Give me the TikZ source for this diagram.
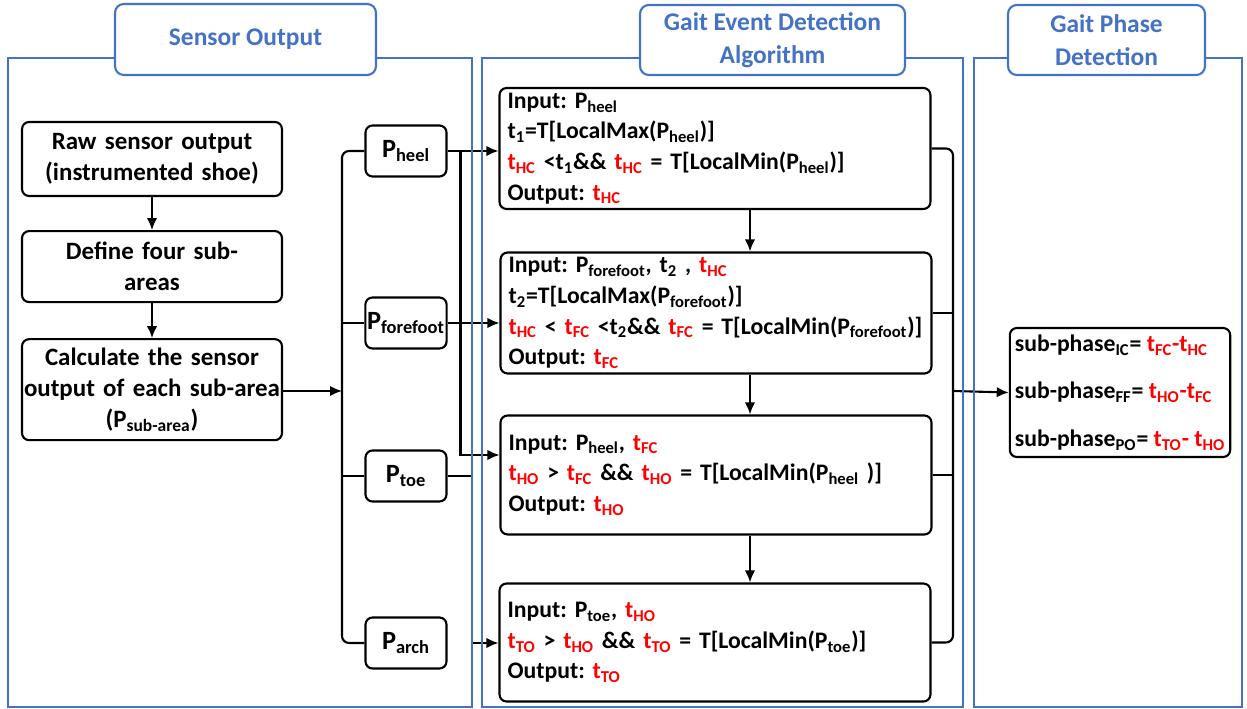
\documentclass[tikz,border=0pt]{standalone}
\usepackage{fontspec}
\setmainfont{Carlito}
\usepackage{xcolor}
\usetikzlibrary{positioning, arrows.meta, calc}
\definecolor{panelblue}{RGB}{68,114,196}
\newcommand{\Pv}[1]{P\textsubscript{#1}}
\newcommand{\tvar}[1]{t\textsubscript{#1}}
\newcommand{\tred}[1]{\textcolor{red}{t\textsubscript{#1}}}
\tikzset{
block/.style={
  rectangle,
  draw,
  very thick,
  rounded corners=4pt,
  align=center,
  fill=white
 },
line/.style={draw, very thick, -{Latex[length=2.4mm,width=2.1mm]}},
edge/.style={draw, very thick},
panel/.style={draw=panelblue, line width=1.3pt},
heading/.style={rectangle, draw=panelblue, line width=1.2pt, rounded corners=5pt,
  fill=white, text=panelblue, align=center,
  font=\fontsize{14.5}{19}\selectfont\bfseries}
}

\begin{document}
\frenchspacing
\begin{tikzpicture}[x=0.02cm, y=-0.02cm,
font=\fontsize{14.2}{17.5}\selectfont\bfseries,
step box/.style={block, text width=5.2cm, inner xsep=0pt},
pnode/.style={block, minimum width=1.62cm, minimum height=1.02cm, inner sep=1pt,
  font=\fontsize{15}{17}\selectfont\bfseries},
algo/.style={block, align=left, text width=8.3cm, inner xsep=0.16cm, inner ysep=1pt,
  minimum height=2.42cm, font=\fontsize{13.5}{17.4}\selectfont\bfseries}]

 \useasboundingbox (0,0) rectangle (1247,709);

 % sensor output column
 \node[step box, minimum height=1.48cm] (raw) at (152,159)
  {Raw sensor output\\(instrumented shoe)};
 \node[step box, minimum height=1.42cm, below=0.66cm of raw] (define)
  {Define four sub-\\areas};
 \node[step box, minimum height=2.02cm, below=0.7cm of define] (calc)
  {Calculate the sensor\\output of each sub-area\\(\Pv{sub-area})};
 \draw[line] (raw) -- (define);
 \draw[line] (define) -- (calc);

 \foreach \n/\y in {heel/151, forefoot/323, toe/476, arch/643}
  \node[pnode] (\n) at (406,\y) {\Pv{\n}};

 \coordinate (lbus) at (342,391);
 \draw[line] (calc.east |- lbus) -- (lbus);
 \draw[edge, rounded corners=4pt] (heel.west) -| (lbus) |- (arch.west);
 \draw[edge] (lbus |- forefoot) -- (forefoot.west);
 \draw[edge] (lbus |- toe) -- (toe.west);

 % event detection boxes
 \node[algo] (b1) at (715,148.5)
  {Input: \Pv{heel}\\
   \tvar{1}=T[LocalMax(\Pv{heel})]\\
   \tred{HC} <\tvar{1}\&\& \tred{HC} = T[LocalMin(\Pv{heel})]\\
   Output: \tred{HC}};
 \node[algo] (b2) at (716,313)
  {Input: \Pv{forefoot}, \tvar{2} , \tred{HC}\\
   \tvar{2}=T[LocalMax(\Pv{forefoot})]\\
   \tred{HC} < \tred{FC} <\tvar{2}\&\& \tred{FC} = T[LocalMin(\Pv{forefoot})]\\
   Output: \tred{FC}};
 \node[algo, minimum height=2.38cm] (b3) at (716,475)
  {Input: \Pv{heel}, \tred{FC}\\
   \tred{HO} > \tred{FC} \&\& \tred{HO} = T[LocalMin(\Pv{heel} )]\\
   Output: \tred{HO}};
 \node[algo, minimum height=2.36cm] (b4) at (715,642.5)
  {Input: \Pv{toe}, \tred{HO}\\
   \tred{TO} > \tred{HO} \&\& \tred{TO} = T[LocalMin(\Pv{toe})]\\
   Output: \tred{TO}};

 \coordinate (ax) at (750,0);
 \foreach \a/\b in {b1/b2, b2/b3, b3/b4}
  \draw[line] (\a.south -| ax) -- (\b.north -| ax);

 \draw[line] (heel.east) -- (b1.west |- heel);
 \draw[line] (forefoot.east) -- (b2.west |- forefoot);
 \path (heel.east) ++(13,0) coordinate (hb);
 \draw[line] (hb) |- ([yshift=0.4cm]b3.west);
 \coordinate (tb) at (472,476);
 \draw[line] (toe.east) -- (tb) |- (b4.west |- arch);

 % phase detection
 \node[block, align=left, minimum width=4.32cm, minimum height=2.58cm, inner xsep=0.1cm,
  font=\fontsize{13.5}{27}\selectfont\bfseries] (phase) at (1120,392.5)
  {sub-phase\textsubscript{IC}= \textcolor{red}{t\textsubscript{FC}-t\textsubscript{HC}}\\
   sub-phase\textsubscript{FF}= \textcolor{red}{t\textsubscript{HO}-t\textsubscript{FC}}\\
   sub-phase\textsubscript{PO}= \textcolor{red}{t\textsubscript{TO}- t\textsubscript{HO}}};

 \coordinate (rbus) at (953,391);
 \draw[edge, rounded corners=4pt] (b1.east) -| (rbus) |- (b4.east);
 \draw[edge] (b2.east) -- (rbus |- b2);
 \draw[edge] (b3.east) -- (rbus |- b3);
 \draw[line] (rbus) -- (phase.west);

 % panels and headings
 \foreach \xa/\xb in {8/472, 482/963, 974/1242}
  \draw[panel] (\xa,58) rectangle (\xb,707);
 \node[heading, minimum width=5.22cm, minimum height=1.42cm] (hsensor) at (245.5,39.5)
  {Sensor Output};
 \node[heading, minimum width=5.3cm, minimum height=1.4cm] (hevent) at (772.5,40)
  {Gait Event Detection\\Algorithm};
 \node[heading, minimum width=3.94cm, minimum height=1.4cm] (hphase) at (1106.5,40)
  {Gait Phase\\Detection};
\end{tikzpicture}
\end{document}
